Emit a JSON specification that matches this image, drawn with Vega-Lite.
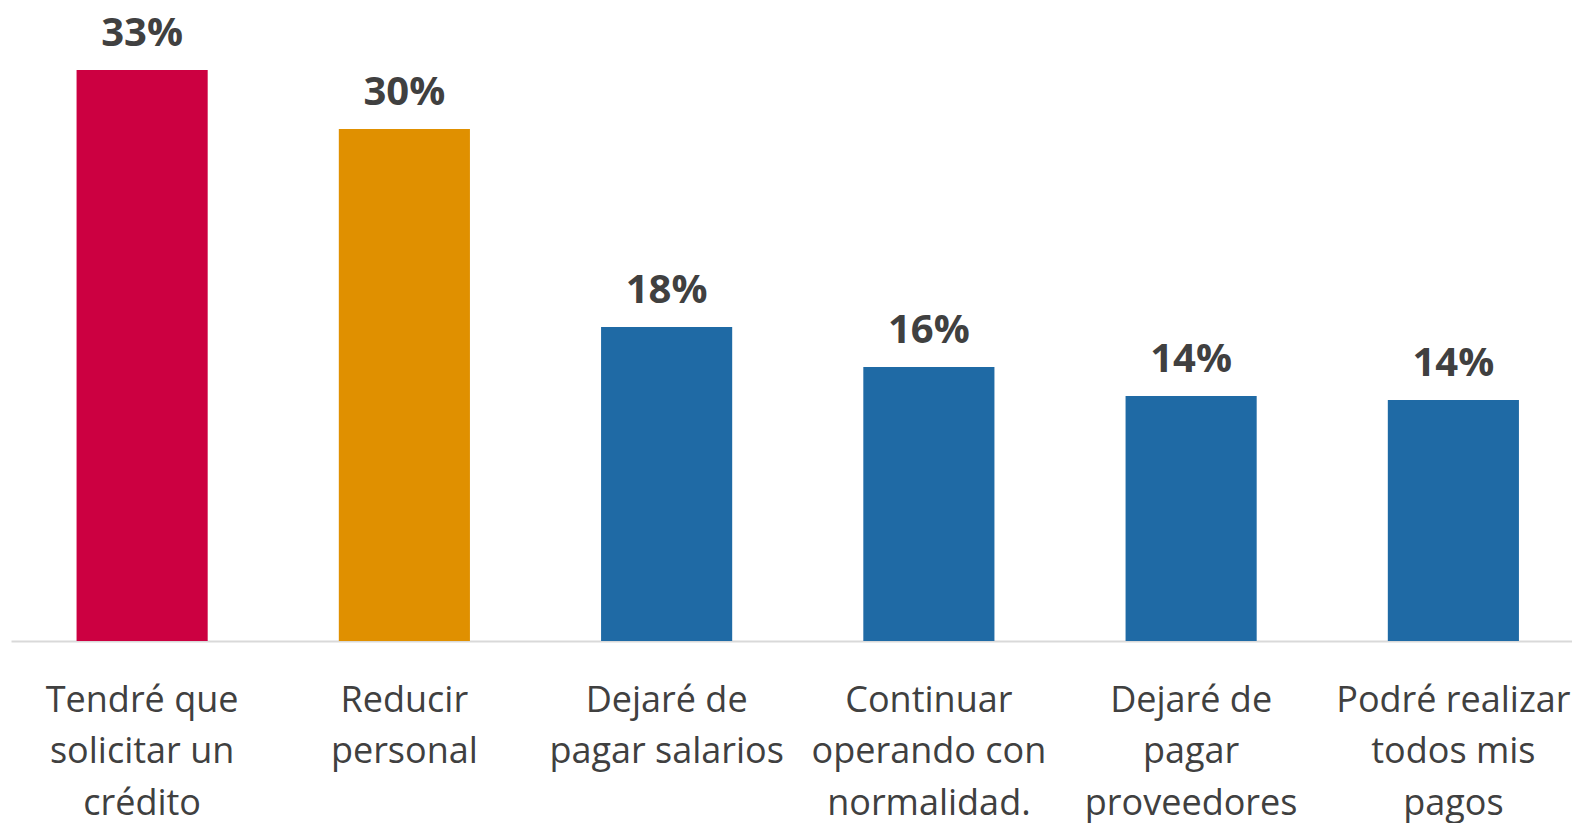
{
  "$schema": "https://vega.github.io/schema/vega-lite/v6.json",
  "width": 1573.5,
  "height": 641,
  "autosize": {"type": "none"},
  "padding": {"left": 11, "top": 0, "right": 0, "bottom": 182},
  "background": "white",
  "config": {"view": {"stroke": null}},
  "data": {
    "values": [
      {"category": "Tendré que\nsolicitar un\ncrédito", "value": 0.3345, "group": "a"},
      {"category": "Reducir\npersonal", "value": 0.300, "group": "b"},
      {"category": "Dejaré de\npagar salarios", "value": 0.184, "group": "c"},
      {"category": "Continuar\noperando con\nnormalidad.", "value": 0.1605, "group": "c"},
      {"category": "Dejaré de\npagar\nproveedores", "value": 0.1435, "group": "c"},
      {"category": "Podré realizar\ntodos mis\npagos", "value": 0.1412, "group": "c"}
    ]
  },
  "encoding": {
    "x": {
      "field": "category", "type": "nominal", "sort": null,
      "scale": {"paddingInner": 0.5, "paddingOuter": 0.25, "round": false},
      "axis": {
        "title": null, "ticks": false, "tickSize": 0, "grid": false,
        "domainColor": "#D9D9D9", "domainWidth": 2,
        "labelAngle": 0, "labelFont": "Open Sans", "labelFontSize": 36,
        "labelColor": "#404040", "labelBaseline": "alphabetic",
        "labelPadding": 70, "labelLimit": 0, "labelLineHeight": 51.5,
        "labelExpr": "split(datum.label, '\\n')"
      }
    },
    "y": {
      "field": "value", "type": "quantitative",
      "scale": {"domain": [0, 0.3755], "nice": false, "zero": true},
      "axis": null
    }
  },
  "layer": [
    {
      "mark": {"type": "bar"},
      "encoding": {
        "color": {
          "field": "group", "type": "nominal", "legend": null,
          "scale": {"domain": ["a", "b", "c"], "range": ["#CC0041", "#E09000", "#1F6AA5"]}
        }
      }
    },
    {
      "mark": {"type": "text", "font": "Open Sans", "fontWeight": "bold", "fontSize": 40, "color": "#404040", "baseline": "alphabetic", "dy": -24},
      "encoding": {
        "text": {"field": "value", "type": "quantitative", "format": ".0%"}
      }
    }
  ]
}
